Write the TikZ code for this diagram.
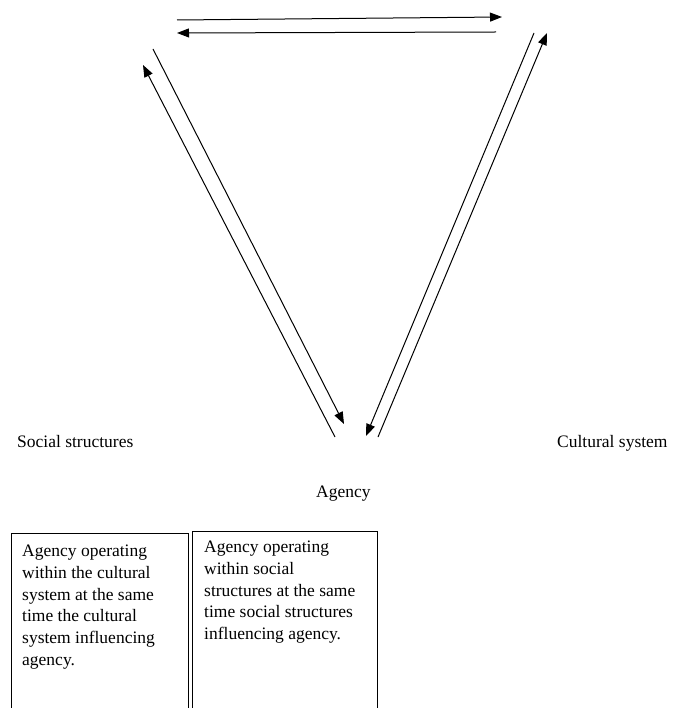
\documentclass[tikz,border=0pt]{standalone}
\usepackage{fontspec}
\setmainfont{Liberation Serif}
\usetikzlibrary{arrows.meta}
\begin{document}
\begin{tikzpicture}[x=1pt,y=-1pt,
  conn/.style={line width=1pt, draw=black},
  arr/.style={conn, -{Triangle[length=12pt,width=9pt]}},
  lbl/.style={font=\fontsize{17.5}{21.7}\selectfont, inner sep=0pt},
  boxshape/.style={draw, line width=1pt, minimum width=#1, minimum height=200pt, anchor=north west, inner sep=0pt},
  boxtext/.style={font=\fontsize{17.5}{21.7}\selectfont, align=left, anchor=north west, inner sep=0pt}
]
\useasboundingbox (0,0) rectangle (683,708);
\clip (0,0) rectangle (683,708);
% labels
\node[lbl, anchor=base west] (soc) at (17,447) {Social structures};
\node[lbl, anchor=base west] (cul) at (557,447) {Cultural system};
\node[lbl, anchor=base west] (age) at (316,497) {Agency};
% arrow end points
\coordinate (t1a) at (177,20);  \coordinate (t1b) at (502,17);
\coordinate (t2a) at (496,32);  \coordinate (t2b) at (177,33);
\coordinate (l1a) at (153,49);  \coordinate (l1b) at (344,424);
\coordinate (l2a) at (335,437); \coordinate (l2b) at (143,65);
\coordinate (r1a) at (534,33);  \coordinate (r1b) at (366,436);
\coordinate (r2a) at (378,437); \coordinate (r2b) at (547,33);
\draw[arr] (t1a) -- (t1b);
\draw[arr] (t2a) -- (t2b);
\draw[arr] (l1a) -- (l1b);
\draw[arr] (l2a) -- (l2b);
\draw[arr] (r1a) -- (r1b);
\draw[arr] (r2a) -- (r2b);
% boxes
\node[boxshape=177pt] (lbox) at (11,533) {};
\node[boxshape=185pt] (rbox) at (192,531) {};
\node[boxtext] (ltext) at (22,545) {Agency operating\\within the cultural\\system at the same\\time the cultural\\system influencing\\agency.};
\node[boxtext] (rtext) at (204,541) {Agency operating\\within social\\structures at the same\\time social structures\\influencing agency.};
\end{tikzpicture}
\end{document}
